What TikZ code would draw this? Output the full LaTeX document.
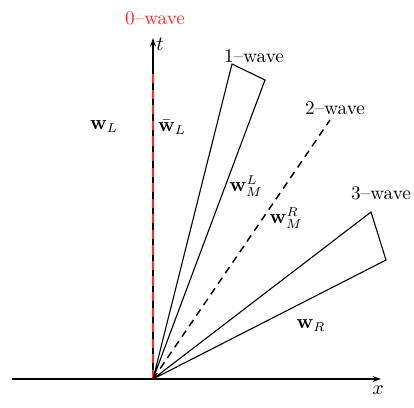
\documentclass[tikz,border=0pt]{standalone}
\usepackage{amsmath,amssymb}
\usepackage{xcolor}
\usepackage{tikz}
\usetikzlibrary{arrows.meta}
\definecolor{zeroc}{HTML}{FF2A2A}
\tikzset{
  ax/.style={-{Stealth[length=1.6mm,width=1.1mm]},thick,black},
  fan/.style={semithick,black},
  lbl/.style={font=\fontsize{10.5}{12.5}\selectfont,inner sep=0.5pt}
}
\begin{document}
\begin{tikzpicture}[x=0.0192cm,y=0.0192cm]
\useasboundingbox (-153,-28) rectangle (261,379);
% axes
\coordinate (O) at (0,0);
\coordinate (xl) at (-141,0);
\coordinate (xr) at (228,0);
\coordinate (tt) at (0,341);
\draw[ax] (xl)--(xr);
\draw[ax] (O)--(tt);
\node[lbl] (xlab) at (225,-11) {$x$};
\node[lbl] (tlab) at (7,335) {$t$};
% 0-wave
\coordinate (z0) at (0,307);
\draw[zeroc,thick,dash pattern=on 5pt off 3.5pt] (O)--(z0);
\node[lbl,zeroc] (w0) at (2,361) {0--wave};
% 1-wave fan
\coordinate (a1) at (79,315);
\coordinate (b1) at (112,299);
\draw[fan] (O)--(a1)--(b1)--cycle;
\node[lbl] (w1) at (101,323) {1--wave};
% 2-wave
\coordinate (c2) at (177,259);
\draw[thick,dash pattern=on 4pt off 3pt] (O)--(c2);
\node[lbl] (w2) at (182,271) {2--wave};
% 3-wave fan
\coordinate (a3) at (218,167);
\coordinate (b3) at (233,119);
\draw[fan] (O)--(a3)--(b3)--cycle;
\node[lbl] (w3) at (228,186) {3--wave};
% states
\node[lbl] (wL) at (-49,252) {$\mathbf{w}_L$};
\node[lbl] (wLb) at (19,252) {$\bar{\mathbf{w}}_L$};
\node[lbl] (wML) at (93,193) {$\mathbf{w}_M^L$};
\node[lbl] (wMR) at (133,161) {$\mathbf{w}_M^R$};
\node[lbl] (wR) at (158,53) {$\mathbf{w}_R$};
\end{tikzpicture}
\end{document}
